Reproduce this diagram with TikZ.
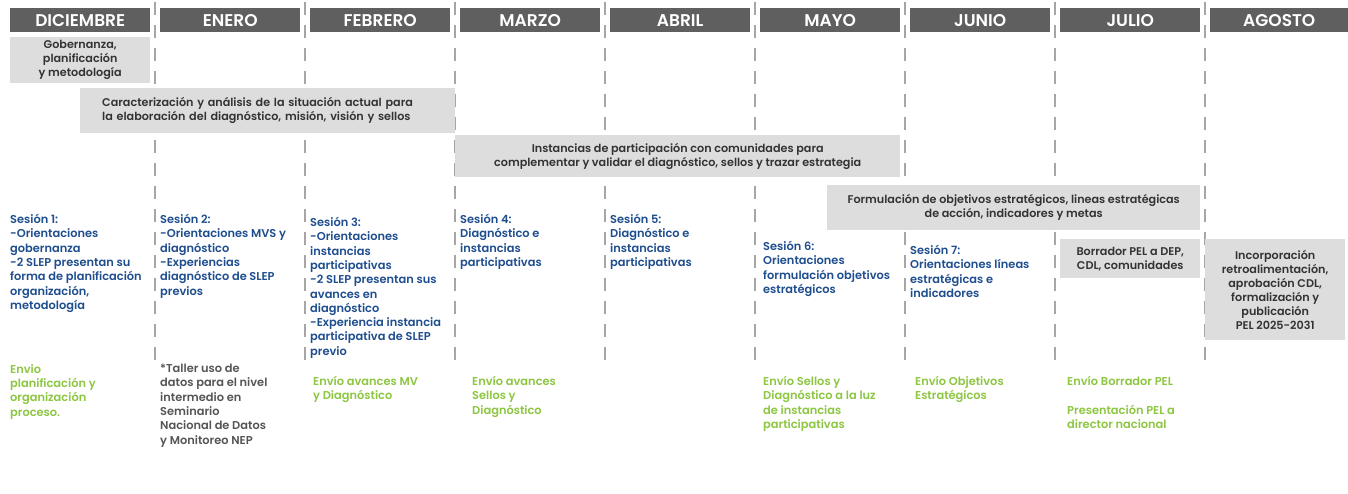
\documentclass[tikz,border=0pt]{standalone}
\usepackage{fontspec}
\setmainfont{Poppins}[BoldFont={Poppins SemiBold}]
\definecolor{hdrgray}{HTML}{5F5F5F}
\definecolor{boxgray}{HTML}{DDDDDD}
\definecolor{boxtext}{HTML}{333333}
\definecolor{sesblue}{HTML}{1F4E8F}
\definecolor{envgreen}{HTML}{8DC641}
\definecolor{notegray}{HTML}{555555}
\definecolor{sepgray}{HTML}{A6A6A6}
\begin{document}
\begin{tikzpicture}[x=1pt,y=-1pt,
  hdr/.style={fill=hdrgray, text=white, font=\fontsize{17}{19}\selectfont\bfseries,
    minimum width=140, minimum height=24, anchor=north west, inner sep=0},
  gbox/.style={fill=boxgray, text=boxtext, font=\fontsize{11.2}{14}\selectfont\bfseries,
    align=center, anchor=north west, inner sep=0},
  sesion/.style={text=sesblue, font=\fontsize{11.4}{14.3}\selectfont\bfseries,
    align=left, anchor=north west, inner sep=0},
  envio/.style={text=envgreen, font=\fontsize{11.4}{14.3}\selectfont\bfseries,
    align=left, anchor=north west, inner sep=0},
  nota/.style={text=notegray, font=\fontsize{11.4}{14.3}\selectfont\bfseries,
    align=left, anchor=north west, inner sep=0},
  sep/.style={draw=sepgray, line width=1.3pt, dash pattern=on 13pt off 10pt}
]
\useasboundingbox (0,0) rectangle (1348,494);
\fill[white] (0,0) rectangle (1348,494);

% separators
\foreach \i in {1,...,8}{
  \coordinate (t\i) at (5+150*\i,2);
  \coordinate (b\i) at (5+150*\i,362);
  \draw[sep] (t\i) -- (b\i);
}

% month headers
\node[hdr] (h1) at (10,8) {DICIEMBRE};
\node[hdr] (h2) at (160,8) {ENERO};
\node[hdr] (h3) at (310,8) {FEBRERO};
\node[hdr] (h4) at (460,8) {MARZO};
\node[hdr] (h5) at (610,8) {ABRIL};
\node[hdr] (h6) at (760,8) {MAYO};
\node[hdr] (h7) at (910,8) {JUNIO};
\node[hdr] (h8) at (1060,8) {JULIO};
\node[hdr, minimum width=138] (h9) at (1210,8) {AGOSTO};

% gray phase boxes
\node[gbox, minimum width=140, minimum height=46] (gob) at (10,37)
  {Gobernanza,\\planificación\\y metodología};
\node[gbox, align=left, text width=331, inner xsep=22, minimum height=45] (car) at (80,88)
  {Caracterización y análisis de la situación actual para\\la elaboración del diagnóstico, misión, visión y sellos};
\node[gbox, minimum width=445, minimum height=42] (ins) at (455,135)
  {Instancias de participación con comunidades para\\complementar y validar el diagnóstico, sellos y trazar estrategia};
\node[gbox, minimum width=373, minimum height=45] (form) at (827,185)
  {Formulación de objetivos estratégicos, lineas estratégicas\\de acción, indicadores y metas};
\node[gbox, minimum width=140, minimum height=39] (borr) at (1060,239)
  {Borrador PEL a DEP,\\CDL, comunidades};
\node[gbox, minimum width=140, minimum height=101] (inc) at (1205,239)
  {Incorporación\\retroalimentación,\\aprobación CDL,\\formalización y\\publicación\\PEL 2025-2031};

% sessions
\node[sesion] (s1) at (10,214) {Sesión 1:\\-Orientaciones\\gobernanza\\-2 SLEP presentan su\\forma de planificación\\organización,\\metodología};
\node[sesion] (s2) at (160,214) {Sesión 2:\\-Orientaciones MVS y\\diagnóstico\\-Experiencias\\diagnóstico de SLEP\\previos};
\node[sesion] (s3) at (310,217) {Sesión 3:\\-Orientaciones\\instancias\\participativas\\-2 SLEP presentan sus\\avances en\\diagnóstico\\-Experiencia instancia\\participativa de SLEP\\previo};
\node[sesion] (s4) at (460,214) {Sesión 4:\\Diagnóstico e\\instancias\\participativas};
\node[sesion] (s5) at (610,214) {Sesión 5:\\Diagnóstico e\\instancias\\participativas};
\node[sesion] (s6) at (763,241) {Sesión 6:\\Orientaciones\\formulación objetivos\\estratégicos};
\node[sesion] (s7) at (910,245) {Sesión 7:\\Orientaciones líneas\\estratégicas e\\indicadores};

% deliverables
\node[envio] (e1) at (10,364) {Envio\\planificación y\\organización\\proceso.};
\node[nota] (n2) at (160,364) {*Taller uso de\\datos para el nivel\\intermedio en\\Seminario\\Nacional de Datos\\y Monitoreo NEP};
\node[envio] (e3) at (313,376) {Envío avances MV\\y Diagnóstico};
\node[envio] (e4) at (472,376) {Envío avances\\Sellos y\\Diagnóstico};
\node[envio] (e6) at (763,376) {Envío Sellos y\\Diagnóstico a la luz\\de instancias\\participativas};
\node[envio] (e7) at (915,376) {Envío Objetivos\\Estratégicos};
\node[envio] (e8) at (1067,376) {Envío Borrador PEL\\[14.3pt]Presentación PEL a\\director nacional};
\end{tikzpicture}
\end{document}
